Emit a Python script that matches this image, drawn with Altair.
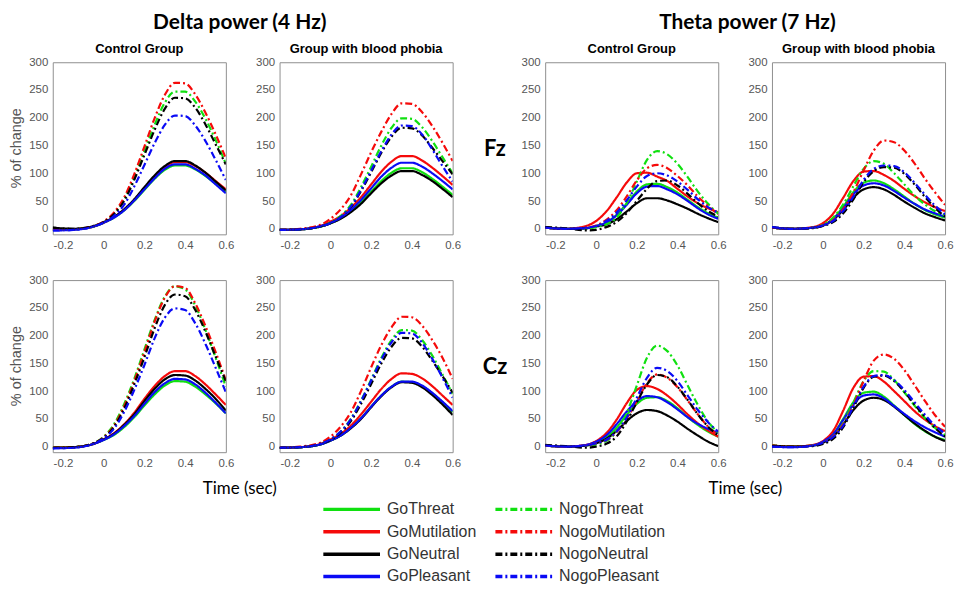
import altair as alt
import pandas as pd

# ---------------- data ----------------
TIME = [-0.25, -0.15, -0.05, 0, 0.05, 0.1, 0.15, 0.2, 0.25, 0.3, 0.35, 0.4, 0.45, 0.5, 0.55, 0.6]

CONDITIONS = ["GoThreat", "GoMutilation", "GoNeutral", "GoPleasant",
              "NogoThreat", "NogoMutilation", "NogoNeutral", "NogoPleasant"]
LINE_COLORS = ["#10e010", "#f50a0a", "#000000", "#0a0af5",
               "#10e010", "#f50a0a", "#000000", "#0a0af5"]
LINE_DASHES = [[1, 0], [1, 0], [1, 0], [1, 0],
               [7, 3, 2, 3], [7, 3, 2, 3], [7, 3, 2, 3], [7, 3, 2, 3]]

X_TICKS = [-0.2, 0, 0.2, 0.4, 0.6]
Y_TICKS = [0, 50, 100, 150, 200, 250, 300]

BLOCK_TITLES = ["Delta power (4 Hz)", "Theta power (7 Hz)"]
GROUP_TITLES = ["Control Group", "Group with blood phobia"]
SITE_LABELS = ["Fz", "Cz"]
Y_LABEL = "% of change"
X_LABEL = "Time (sec)"

delta_control_fz = {
    "GoThreat":       [-2, -1, 4, 11, 20, 33, 50, 70, 90, 106, 114, 114, 107, 95, 81, 66],
    "NogoThreat":     [-2, -1, 4, 12, 27, 52, 92, 140, 187, 227, 247, 247, 229, 198, 160, 117],
    "GoMutilation":   [-2, -1, 4, 11, 21, 34, 52, 73, 94, 111, 120, 120, 113, 101, 86, 71],
    "NogoMutilation": [-2, -1, 5, 13, 29, 56, 98, 148, 199, 241, 263, 262, 242, 209, 170, 127],
    "GoNeutral":      [2, 0, 5, 12, 21, 35, 53, 75, 96, 113, 122, 122, 114, 101, 85, 69],
    "NogoNeutral":    [2, 0, 5, 12, 26, 50, 88, 133, 178, 216, 236, 235, 218, 188, 152, 116],
    "GoPleasant":     [-3, -2, 4, 11, 20, 33, 51, 71, 91, 108, 116, 116, 108, 96, 80, 64],
    "NogoPleasant":   [-3, -2, 4, 11, 23, 43, 76, 115, 154, 187, 204, 203, 186, 158, 124, 88],
}
delta_phobia_fz = {
    "GoThreat":       [-2, -1, 4, 10, 19, 31, 48, 67, 86, 101, 109, 109, 102, 90, 76, 61],
    "NogoThreat":     [-2, -1, 4, 11, 23, 43, 75, 112, 150, 182, 199, 198, 183, 158, 129, 100],
    "GoMutilation":   [-2, -1, 5, 13, 23, 38, 57, 80, 103, 121, 131, 131, 123, 110, 95, 79],
    "NogoMutilation": [-2, 0, 7, 18, 35, 60, 98, 138, 175, 207, 226, 225, 210, 185, 155, 122],
    "GoNeutral":      [-2, -1, 4, 10, 18, 30, 45, 64, 82, 96, 104, 104, 97, 86, 72, 57],
    "NogoNeutral":    [-2, -1, 4, 10, 21, 39, 68, 102, 137, 166, 182, 181, 168, 146, 122, 98],
    "GoPleasant":     [-2, -1, 5, 11, 20, 34, 52, 73, 94, 110, 119, 119, 112, 100, 86, 71],
    "NogoPleasant":   [-2, -1, 4, 10, 21, 40, 70, 105, 140, 170, 186, 185, 170, 143, 113, 85],
}
delta_control_cz = {
    "GoThreat":       [-2, -1, 5, 12, 21, 35, 53, 74, 94, 110, 118, 117, 108, 94, 78, 60],
    "NogoThreat":     [-2, -1, 6, 18, 40, 76, 122, 175, 228, 270, 289, 283, 254, 210, 160, 108],
    "GoMutilation":   [-2, -1, 5, 13, 24, 40, 61, 86, 109, 127, 136, 136, 127, 112, 94, 75],
    "NogoMutilation": [-2, -1, 6, 17, 37, 72, 118, 170, 225, 268, 289, 286, 258, 217, 170, 120],
    "GoNeutral":      [-2, -1, 5, 13, 23, 39, 58, 82, 104, 121, 129, 128, 119, 104, 86, 65],
    "NogoNeutral":    [-2, -1, 6, 16, 35, 68, 112, 161, 213, 255, 274, 271, 246, 207, 162, 118],
    "GoPleasant":     [-3, -2, 5, 12, 22, 37, 55, 77, 98, 114, 122, 121, 112, 97, 79, 60],
    "NogoPleasant":   [-3, -2, 5, 15, 32, 62, 102, 147, 195, 232, 249, 246, 222, 185, 142, 98],
}
delta_phobia_cz = {
    "GoThreat":       [-2, -1, 4, 11, 20, 34, 51, 72, 92, 108, 117, 116, 109, 96, 80, 62],
    "NogoThreat":     [-2, -1, 5, 13, 27, 50, 83, 121, 160, 192, 210, 209, 192, 164, 130, 95],
    "GoMutilation":   [-2, -1, 5, 13, 23, 38, 58, 81, 104, 122, 132, 131, 123, 109, 92, 75],
    "NogoMutilation": [-2, 0, 7, 18, 36, 62, 100, 143, 183, 215, 234, 233, 218, 192, 160, 122],
    "GoNeutral":      [-2, -1, 4, 11, 20, 33, 50, 71, 91, 107, 116, 115, 107, 93, 76, 57],
    "NogoNeutral":    [-2, -1, 5, 12, 25, 46, 77, 113, 150, 180, 196, 195, 180, 155, 127, 97],
    "GoPleasant":     [-2, -1, 4, 11, 20, 34, 51, 72, 92, 108, 117, 117, 110, 97, 81, 64],
    "NogoPleasant":   [-2, -1, 5, 13, 27, 49, 82, 119, 157, 188, 205, 204, 187, 158, 124, 88],
}
theta_control_fz = {
    "GoThreat":       [2, 0, 1, 5, 11, 25, 45, 67, 80, 81, 75, 65, 52, 39, 28, 20],
    "NogoThreat":     [2, 0, 0, 3, 8, 20, 46, 85, 124, 140, 134, 117, 93, 67, 45, 27],
    "GoMutilation":   [2, 0, 5, 14, 31, 56, 83, 100, 101, 94, 86, 72, 58, 46, 37, 30],
    "NogoMutilation": [2, 0, 2, 6, 16, 33, 58, 87, 109, 115, 109, 95, 78, 58, 41, 26],
    "GoNeutral":      [2, 0, 1, 4, 8, 17, 31, 46, 55, 55, 51, 44, 36, 27, 19, 12],
    "NogoNeutral":    [3, 1, -3, -2, 3, 12, 28, 50, 72, 86, 87, 78, 63, 46, 32, 22],
    "GoPleasant":     [2, 0, 1, 5, 11, 24, 43, 64, 76, 77, 71, 62, 50, 37, 26, 18],
    "NogoPleasant":   [2, 0, 2, 5, 14, 29, 51, 76, 95, 100, 96, 85, 70, 53, 39, 29],
}
theta_phobia_fz = {
    "GoThreat":       [2, 0, 2, 6, 18, 40, 66, 83, 87, 82, 71, 58, 45, 34, 26, 20],
    "NogoThreat":     [2, 0, 2, 7, 20, 44, 77, 108, 122, 117, 100, 80, 60, 44, 32, 24],
    "GoMutilation":   [2, 0, 3, 10, 27, 56, 86, 103, 104, 97, 86, 72, 59, 48, 39, 32],
    "NogoMutilation": [2, 0, 2, 6, 15, 35, 66, 105, 141, 159, 156, 141, 118, 91, 66, 43],
    "GoNeutral":      [2, 0, 2, 6, 16, 34, 56, 71, 75, 71, 61, 49, 38, 28, 21, 15],
    "NogoNeutral":    [3, 0, 1, 5, 12, 28, 53, 84, 104, 111, 110, 99, 80, 58, 38, 22],
    "GoPleasant":     [2, 0, 2, 6, 17, 37, 62, 78, 82, 78, 68, 56, 45, 35, 28, 22],
    "NogoPleasant":   [3, 0, 2, 6, 14, 32, 58, 88, 108, 114, 113, 102, 83, 62, 42, 26],
}
theta_control_cz = {
    "GoThreat":       [2, 0, 2, 7, 16, 34, 57, 77, 88, 89, 82, 69, 53, 39, 27, 18],
    "NogoThreat":     [2, 0, 1, 4, 10, 27, 60, 110, 160, 182, 172, 146, 110, 75, 45, 25],
    "GoMutilation":   [2, 0, 3, 10, 24, 48, 78, 102, 109, 104, 92, 76, 58, 42, 29, 18],
    "NogoMutilation": [2, 0, 2, 6, 12, 26, 50, 82, 114, 130, 124, 107, 83, 58, 36, 20],
    "GoNeutral":      [2, 0, 2, 6, 14, 28, 46, 60, 66, 64, 56, 45, 32, 20, 9, 1],
    "NogoNeutral":    [3, 1, -2, 0, 5, 18, 45, 80, 112, 129, 125, 108, 84, 58, 36, 20],
    "GoPleasant":     [2, 0, 3, 9, 20, 40, 63, 82, 91, 89, 80, 67, 53, 41, 32, 25],
    "NogoPleasant":   [2, 0, 2, 6, 12, 27, 52, 88, 124, 142, 136, 118, 92, 66, 44, 27],
}
theta_phobia_cz = {
    "GoThreat":       [2, 0, 2, 8, 22, 50, 80, 97, 99, 90, 74, 57, 41, 28, 18, 12],
    "NogoThreat":     [2, 0, 2, 7, 18, 42, 80, 118, 136, 135, 120, 98, 74, 52, 34, 21],
    "GoMutilation":   [2, 0, 3, 10, 28, 65, 106, 126, 127, 117, 100, 82, 64, 49, 37, 28],
    "NogoMutilation": [2, 0, 2, 7, 18, 40, 75, 118, 155, 166, 158, 138, 111, 83, 57, 36],
    "GoNeutral":      [2, 0, 2, 7, 18, 40, 66, 83, 88, 84, 72, 57, 42, 29, 18, 10],
    "NogoNeutral":    [1, 0, 1, 5, 14, 35, 70, 106, 126, 128, 118, 99, 76, 54, 34, 18],
    "GoPleasant":     [0, -1, 2, 9, 22, 48, 76, 92, 94, 87, 73, 59, 46, 35, 26, 18],
    "NogoPleasant":   [0, -1, 2, 7, 17, 38, 72, 108, 127, 129, 120, 102, 80, 58, 38, 24],
}

# ---------------- chart building ----------------
PANEL_W = 174
PANEL_H = 173
LEGEND_X = 270
LEGEND_Y = 441.5

legend = alt.Legend(
    orient="none", legendX=LEGEND_X, legendY=LEGEND_Y, columns=2, direction="vertical", title=None,
    symbolType="stroke", symbolSize=3249, symbolStrokeWidth=3.5, clipHeight=16, padding=0,
    labelFont="Liberation Sans", labelFontSize=16, labelColor="#333333",
    labelOffset=5, rowPadding=6.5, columnPadding=17, labelLimit=250,
)

x_label_expr = ("datum.value == 0 ? '0' : (datum.value < 0 ? '-' : '') + "
                "format(abs(datum.value), '.1f')")


def make_panel(values, title=None, y_axis=None):
    rows = []
    for cond in CONDITIONS:
        for t, v in zip(TIME, values[cond]):
            rows.append({"t": t, "v": v, "cond": cond})
    df = pd.DataFrame(rows)
    if y_axis is None:
        y_axis = alt.Axis(values=Y_TICKS, title=None)
    x_axis = alt.Axis(values=X_TICKS, title=None, labelExpr=x_label_expr, labelFlush=False)
    ch = alt.Chart(df).mark_line(strokeWidth=2.2, interpolate="monotone", clip=True).encode(
        x=alt.X("t:Q", scale=alt.Scale(domain=[-0.25, 0.6], nice=False, zero=False), axis=x_axis),
        y=alt.Y("v:Q", scale=alt.Scale(domain=[-10, 300], nice=False, zero=False), axis=y_axis),
        color=alt.Color("cond:N", scale=alt.Scale(domain=CONDITIONS, range=LINE_COLORS), legend=legend),
        strokeDash=alt.StrokeDash("cond:N", scale=alt.Scale(domain=CONDITIONS, range=LINE_DASHES), legend=legend),
    )
    props = dict(width=PANEL_W, height=PANEL_H)
    if title:
        props["title"] = alt.TitleParams(title, font="Liberation Sans", fontSize=13, fontWeight="bold",
                                         color="black", anchor="middle", offset=0)
    return ch.properties(**props)


def pct_axis():
    return alt.Axis(values=Y_TICKS, title=Y_LABEL, titleX=-36, titleY=86, titleAngle=270,
                    titleAlign="center", titleBaseline="middle", titleFont="Liberation Sans",
                    titleFontSize=14.5, titleFontWeight="normal", titleColor="#555555")


def site_axis(label):
    return alt.Axis(values=Y_TICKS, title=label, titleX=-51, titleY=87, titleAngle=0,
                    titleAlign="center", titleBaseline="middle", titleFont="Lato",
                    titleFontSize=22, titleFontWeight="bold", titleColor="black")


SV = 22   # vertical spacing between rows
SH = 20   # spacing between columns

p1 = make_panel(delta_control_fz, GROUP_TITLES[0], y_axis=pct_axis())
p2 = make_panel(delta_phobia_fz, GROUP_TITLES[1])
p5 = make_panel(delta_control_cz, None, y_axis=pct_axis())
p6 = make_panel(delta_phobia_cz, None)

p3 = make_panel(theta_control_fz, GROUP_TITLES[0], y_axis=site_axis(SITE_LABELS[0]))
p4 = make_panel(theta_phobia_fz, GROUP_TITLES[1])
p7 = make_panel(theta_control_cz, None, y_axis=site_axis(SITE_LABELS[1]))
p8 = make_panel(theta_phobia_cz, None)

top_kw = dict(font="Lato", fontSize=21, fontWeight="bold", color="black", anchor="middle", offset=10)
bottom_kw = dict(font="Lato", fontSize=17, fontWeight="normal", color="black", anchor="middle",
                 orient="bottom", offset=12)

left_block = alt.vconcat(
    alt.hconcat(alt.vconcat(p1, p5, spacing=SV), alt.vconcat(p2, p6, spacing=SV), spacing=SH,
                title=alt.TitleParams(BLOCK_TITLES[0], dx=5, **top_kw)),
    title=alt.TitleParams(X_LABEL, dx=5, **bottom_kw),
)
right_block = alt.vconcat(
    alt.hconcat(alt.vconcat(p3, p7, spacing=SV), alt.vconcat(p4, p8, spacing=SV), spacing=SH,
                title=alt.TitleParams(BLOCK_TITLES[1], dx=30, **top_kw)),
    title=alt.TitleParams(X_LABEL, dx=28, **bottom_kw),
)

chart = alt.hconcat(left_block, right_block, spacing=SH).properties(
    padding={"left": 0, "top": 2, "right": 0, "bottom": 0}
).configure_view(
    stroke="#8f8f8f", strokeWidth=1
).configure_axis(
    domain=False, grid=False, ticks=False, labelFont="Liberation Sans", labelFontSize=11.5,
    labelColor="#555555", labelPadding=5,
)

chart.save("out.html", embed_options={"renderer": "svg", "actions": False})
